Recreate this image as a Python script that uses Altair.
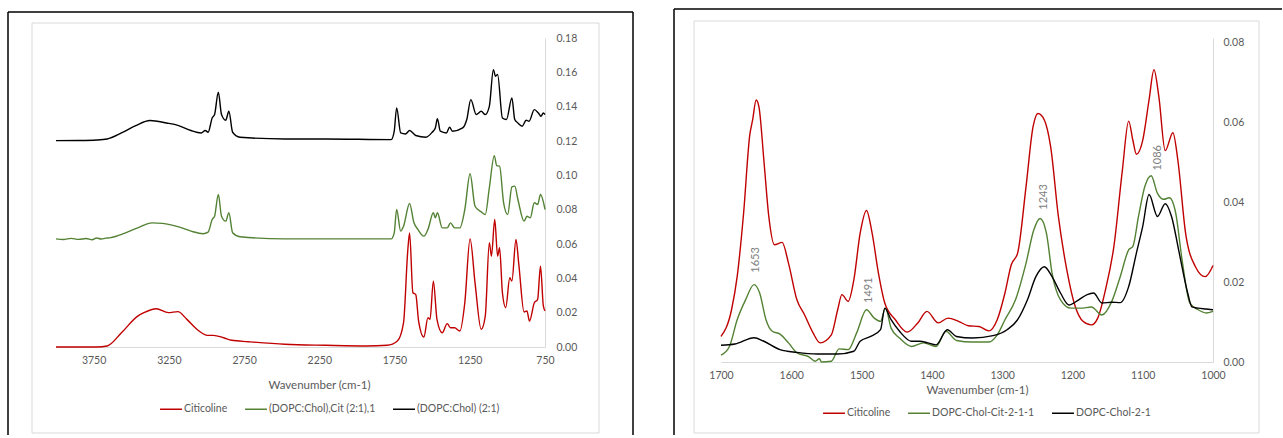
import altair as alt
import pandas as pd

FONT = "Lato"
TXT = "#595959"
COLORS = ["#C00000", "#548235", "#000000"]

# ---------------- left panel: full spectra (stacked) ----------------
L_SERIES = ["Citicoline", "(DOPC:Chol),Cit (2:1),1", "(DOPC:Chol) (2:1)"]

L_RED_WN = [4000, 3728, 3660, 3565, 3457, 3416, 3334, 3253, 3190, 3130, 3049, 2995, 2954, 2886,
            2832, 2723, 2478, 2207, 1935, 1799, 1731, 1690, 1663, 1650, 1628, 1609, 1590, 1555,
            1528, 1514, 1492, 1468, 1433, 1400, 1378, 1351, 1316, 1283, 1248, 1215, 1174, 1147,
            1120, 1106, 1084, 1065, 1052, 1033, 1011, 984, 970, 943, 924, 889, 870, 853, 821,
            799, 780, 761, 750]
L_RED_A = [0.0, 0.0, 0.0006, 0.0083, 0.018, 0.020, 0.0223, 0.020, 0.0206, 0.0161, 0.0093, 0.0068,
           0.0068, 0.0054, 0.0039, 0.0031, 0.0016, 0.0010, 0.0006, 0.0010, 0.0035, 0.0142, 0.055,
           0.0665, 0.0316, 0.0306, 0.0151, 0.0058, 0.0171, 0.0161, 0.0384, 0.0161, 0.0083, 0.0136,
           0.0112, 0.0112, 0.0093, 0.0258, 0.063, 0.0374, 0.0103, 0.018, 0.0607, 0.0529, 0.0743,
           0.0529, 0.0578, 0.0316, 0.0229, 0.0403, 0.0384, 0.0626, 0.0481, 0.0204, 0.021, 0.0151,
           0.0258, 0.0277, 0.0471, 0.0239, 0.021]

L_GRN_WN = [4000, 3950, 3900, 3850, 3800, 3760, 3730, 3700, 3670, 3647, 3600, 3565, 3457, 3361,
            3293, 3185, 3103, 3022, 2989, 2962, 2946, 2921, 2900, 2872, 2851, 2826, 2777, 2478,
            1772, 1752, 1736, 1709, 1690, 1650, 1622, 1595, 1555, 1528, 1492, 1479, 1465, 1433,
            1400, 1378, 1351, 1316, 1283, 1248, 1215, 1174, 1147, 1120, 1087, 1071, 1052, 1025,
            998, 970, 951, 930, 889, 870, 848, 821, 799, 780, 750]
L_GRN_A = [0.0630, 0.0626, 0.0633, 0.0627, 0.0632, 0.0625, 0.0635, 0.0629, 0.0634, 0.0636, 0.0645,
           0.0656, 0.0694, 0.0723, 0.0720, 0.0700, 0.0675, 0.0660, 0.0669, 0.0743, 0.0762, 0.0888,
           0.0762, 0.0733, 0.0782, 0.0665, 0.0642, 0.0630, 0.0630, 0.0665, 0.0801, 0.0675, 0.0704,
           0.0836, 0.0727, 0.0685, 0.0646, 0.0685, 0.0782, 0.0753, 0.0782, 0.0694, 0.0694, 0.0723,
           0.0694, 0.0694, 0.0801, 0.1009, 0.0820, 0.0787, 0.0772, 0.0927, 0.1115, 0.1057, 0.1053,
           0.0840, 0.0772, 0.0933, 0.0937, 0.0859, 0.0733, 0.0762, 0.0753, 0.0840, 0.0830, 0.0888,
           0.0801]

L_BLK_WN = [4000, 3850, 3728, 3660, 3565, 3470, 3375, 3266, 3185, 3103, 3035, 3008, 2989, 2962,
            2946, 2921, 2900, 2872, 2851, 2826, 2777, 2478, 2207, 1772, 1752, 1736, 1709, 1677,
            1650, 1609, 1541, 1500, 1479, 1465, 1446, 1405, 1384, 1365, 1297, 1270, 1243, 1207,
            1174, 1147, 1120, 1093, 1079, 1065, 1033, 1006, 970, 951, 930, 902, 875, 856, 821,
            794, 777, 761, 750]
L_BLK_A = [0.1202, 0.1203, 0.1206, 0.1212, 0.1247, 0.1290, 0.1319, 0.1305, 0.1290, 0.1261, 0.1247,
           0.1261, 0.1251, 0.1334, 0.1354, 0.1484, 0.1354, 0.1321, 0.1373, 0.1251, 0.1222, 0.1212,
           0.1212, 0.1208, 0.1257, 0.1393, 0.1247, 0.1241, 0.1261, 0.1232, 0.1222, 0.1251, 0.1276,
           0.1330, 0.1257, 0.1247, 0.1280, 0.1257, 0.1276, 0.1325, 0.1441, 0.1354, 0.1373, 0.1354,
           0.1402, 0.1616, 0.1577, 0.1587, 0.1334, 0.1325, 0.1451, 0.1325, 0.1305, 0.1286, 0.1321,
           0.1315, 0.1383, 0.1363, 0.1344, 0.1363, 0.1354]

L_XTICKS = [3750, 3250, 2750, 2250, 1750, 1250, 750]
L_YTICKS = [0.0, 0.02, 0.04, 0.06, 0.08, 0.10, 0.12, 0.14, 0.16, 0.18]

# ---------------- right panel: 1700-1000 cm-1 ----------------
R_SERIES = ["Citicoline", "DOPC-Chol-Cit-2-1-1", "DOPC-Chol-2-1"]

R_RED_WN = [1700, 1685, 1677, 1668, 1659, 1655, 1650, 1646, 1639, 1632, 1624, 1613, 1604, 1592,
            1581, 1569, 1559, 1543, 1534, 1528, 1519, 1511, 1502, 1493, 1485, 1476, 1467, 1452,
            1435, 1420, 1407, 1391, 1377, 1362, 1348, 1333, 1319, 1307, 1296, 1287, 1278, 1266,
            1256, 1249, 1240, 1231, 1220, 1208, 1196, 1185, 1173, 1164, 1153, 1141, 1129, 1120,
            1114, 1109, 1100, 1091, 1084, 1077, 1068, 1057, 1050, 1039, 1025, 1011, 1000]
R_RED_A = [0.0064, 0.0131, 0.0214, 0.037, 0.057, 0.0607, 0.0657, 0.064, 0.0506, 0.0365, 0.0294,
           0.030, 0.0248, 0.0156, 0.0118, 0.0073, 0.0048, 0.0068, 0.0131, 0.0169, 0.0152, 0.0206,
           0.0323, 0.038, 0.0323, 0.0223, 0.0148, 0.0106, 0.0075, 0.0098, 0.0127, 0.0098, 0.011,
           0.0102, 0.0091, 0.0089, 0.0078, 0.0106, 0.0173, 0.0244, 0.0273, 0.044, 0.059, 0.0623,
           0.0607, 0.054, 0.0365, 0.0231, 0.0139, 0.0102, 0.0093, 0.011, 0.0181, 0.029, 0.048,
           0.0604, 0.0556, 0.0521, 0.0556, 0.0657, 0.0733, 0.0665, 0.053, 0.0575, 0.0506, 0.0323,
           0.0239, 0.0214, 0.0242]

R_GRN_WN = [1700, 1688, 1677, 1665, 1653, 1645, 1636, 1627, 1616, 1604, 1592, 1575, 1566, 1560,
            1557, 1543, 1532, 1519, 1507, 1493, 1482, 1473, 1466, 1458, 1446, 1429, 1412, 1394,
            1380, 1365, 1342, 1319, 1307, 1296, 1281, 1266, 1255, 1246, 1237, 1229, 1217, 1202,
            1188, 1173, 1158, 1144, 1132, 1120, 1114, 1106, 1097, 1088, 1079, 1070, 1062, 1053,
            1044, 1033, 1021, 1010, 1000]
R_GRN_A = [0.0017, 0.0039, 0.0106, 0.0156, 0.0194, 0.0173, 0.0106, 0.0077, 0.007, 0.0048, 0.0023,
           0.0013, 0.0002, 0.0008, 0.0, 0.0002, 0.0033, 0.0031, 0.0073, 0.0131, 0.011, 0.0102,
           0.0135, 0.0085, 0.006, 0.0039, 0.0048, 0.0039, 0.0077, 0.0054, 0.005, 0.005, 0.0068,
           0.0106, 0.0156, 0.0248, 0.0331, 0.036, 0.0323, 0.0223, 0.0156, 0.0135, 0.0135, 0.0138,
           0.0118, 0.0152, 0.0214, 0.0281, 0.029, 0.0365, 0.044, 0.0467, 0.0423, 0.0408, 0.0412,
           0.0373, 0.0256, 0.0148, 0.0131, 0.0123, 0.0127]

R_BLK_WN = [1700, 1680, 1653, 1639, 1616, 1592, 1563, 1534, 1511, 1502, 1487, 1473, 1467, 1458,
            1446, 1429, 1417, 1406, 1394, 1378, 1365, 1342, 1313, 1293, 1278, 1264, 1252, 1240,
            1229, 1217, 1205, 1191, 1179, 1170, 1158, 1144, 1132, 1120, 1109, 1100, 1091, 1079,
            1068, 1059, 1048, 1036, 1030, 1021, 1010, 1000]
R_BLK_A = [0.0042, 0.0045, 0.0061, 0.0052, 0.0031, 0.0024, 0.002, 0.002, 0.0027, 0.0052, 0.0064,
           0.0081, 0.0135, 0.0106, 0.0077, 0.0052, 0.0052, 0.0048, 0.0043, 0.0081, 0.0064, 0.006,
           0.0066, 0.0081, 0.0106, 0.0156, 0.0214, 0.0239, 0.0214, 0.0173, 0.0143, 0.0156, 0.0169,
           0.0173, 0.0148, 0.015, 0.0149, 0.0189, 0.0273, 0.034, 0.042, 0.0365, 0.0397, 0.0365,
           0.0273, 0.0173, 0.0138, 0.0135, 0.0133, 0.0131]

R_XTICKS = [1700, 1600, 1500, 1400, 1300, 1200, 1100, 1000]
R_YTICKS = [0.0, 0.02, 0.04, 0.06, 0.08]

ANN_TEXT = ["1653", "1491", "1243", "1086"]
ANN_WN = [1650, 1489, 1240, 1078]
ANN_A = [0.0256, 0.0180, 0.0414, 0.0512]


def frame(series_names, wns, vals):
    rows = []
    for name, w, v in zip(series_names, wns, vals):
        for a, b in zip(w, v):
            rows.append({"wn": a, "absorb": b, "series": name})
    return pd.DataFrame(rows)


left_df = frame(L_SERIES, [L_RED_WN, L_GRN_WN, L_BLK_WN], [L_RED_A, L_GRN_A, L_BLK_A])
right_df = frame(R_SERIES, [R_RED_WN, R_GRN_WN, R_BLK_WN], [R_RED_A, R_GRN_A, R_BLK_A])
ann_df = pd.DataFrame({"label": ANN_TEXT, "wn": ANN_WN, "absorb": ANN_A})

ONE = pd.DataFrame({"k": [0]})


def seg(x1, x2, y1, y2, color, w=1.5):
    return alt.Chart(ONE).mark_rule(color=color, strokeWidth=w).encode(
        x=alt.value(x1), x2=alt.value(x2), y=alt.value(y1), y2=alt.value(y2)
    )


def legend(lx, ly):
    return alt.Legend(
        orient="none", legendX=lx, legendY=ly, direction="horizontal", columns=3,
        title=None, symbolType="stroke", symbolSize=480, symbolStrokeWidth=1.5,
        labelFont=FONT, labelFontSize=10.5, labelColor=TXT, columnPadding=14, labelOffset=1,
    )


# ---------- left ----------
lxs = alt.Scale(domain=[750, 4000], reverse=True, nice=False, zero=False)
lys = alt.Scale(domain=[0, 0.18], nice=False)
left_lines = alt.Chart(left_df).mark_line(strokeWidth=1.4, interpolate="monotone").encode(
    x=alt.X("wn:Q", scale=lxs, axis=alt.Axis(
        values=L_XTICKS, format="d", title="Wavenumber (cm-1)", titleX=263, titleY=38,
        titleBaseline="middle", titleAlign="center", labelPadding=8,
        labelFlush=False, labelOverlap=False)),
    y=alt.Y("absorb:Q", scale=lys, axis=alt.Axis(
        orient="right", values=L_YTICKS, format=".2f", title=None,
        labelPadding=11, labelOverlap=False)),
    color=alt.Color("series:N", scale=alt.Scale(domain=L_SERIES, range=COLORS),
                    legend=legend(103, 359)),
)
left_decor = [
    seg(-48, 577, -26, -26, "#000000"),
    seg(-48, -48, -26, 397, "#000000"),
    seg(577, 577, -26, 397, "#000000"),
    seg(-24, 543, -15, -15, "#d9d9d9", 1),
    seg(-24, 543, 395, 395, "#d9d9d9", 1),
    seg(-24, -24, -15, 395, "#d9d9d9", 1),
    seg(543, 543, -15, 395, "#d9d9d9", 1),
]
left = alt.layer(*left_decor, left_lines).properties(width=489, height=309)

# ---------- right ----------
rxs = alt.Scale(domain=[1000, 1700], reverse=True, nice=False, zero=False)
rys = alt.Scale(domain=[0, 0.08125], nice=False)
right_lines = alt.Chart(right_df).mark_line(strokeWidth=1.4, interpolate="monotone").encode(
    x=alt.X("wn:Q", scale=rxs, axis=alt.Axis(
        values=R_XTICKS, format="d", title="Wavenumber (cm-1)", titleX=256, titleY=28,
        titleBaseline="middle", titleAlign="center", labelPadding=8,
        labelFlush=False, labelOverlap=False)),
    y=alt.Y("absorb:Q", scale=rys, axis=alt.Axis(
        orient="right", values=R_YTICKS, format=".2f", title=None,
        labelPadding=10, labelOverlap=False)),
    color=alt.Color("series:N", scale=alt.Scale(domain=R_SERIES, range=COLORS),
                    legend=legend(101, 363)),
)
right_ann = alt.Chart(ann_df).mark_text(
    angle=270, align="center", baseline="middle", font=FONT, fontSize=11, color="#7f7f7f"
).encode(
    x=alt.X("wn:Q", scale=rxs),
    y=alt.Y("absorb:Q", scale=rys),
    text="label:N",
)
right_decor = [
    seg(-47, 561, -29, -29, "#000000"),
    seg(-47, -47, -29, 397, "#000000"),
    seg(-27, 538, -17, -17, "#d9d9d9", 1),
    seg(-27, 538, 395, 395, "#d9d9d9", 1),
    seg(-27, -27, -17, 395, "#d9d9d9", 1),
    seg(538, 538, -17, 395, "#d9d9d9", 1),
]
right = alt.layer(*right_decor, right_lines, right_ann).properties(width=492, height=324)

chart = (
    alt.hconcat(left, right, spacing=39, bounds="full")
    .resolve_scale(color="independent", x="independent", y="independent")
    .properties(padding={"left": 7, "top": 8, "right": 0, "bottom": 0}, background="#ffffff")
    .configure_view(stroke=None)
    .configure_axis(
        domainColor="#d9d9d9", domainWidth=1, ticks=False, grid=False,
        labelFont=FONT, labelFontSize=10.5, labelColor=TXT,
        titleFont=FONT, titleFontSize=11.5, titleColor=TXT, titleFontWeight="normal",
    )
)

chart.save("out.html", embed_options={"renderer": "svg", "actions": False})
